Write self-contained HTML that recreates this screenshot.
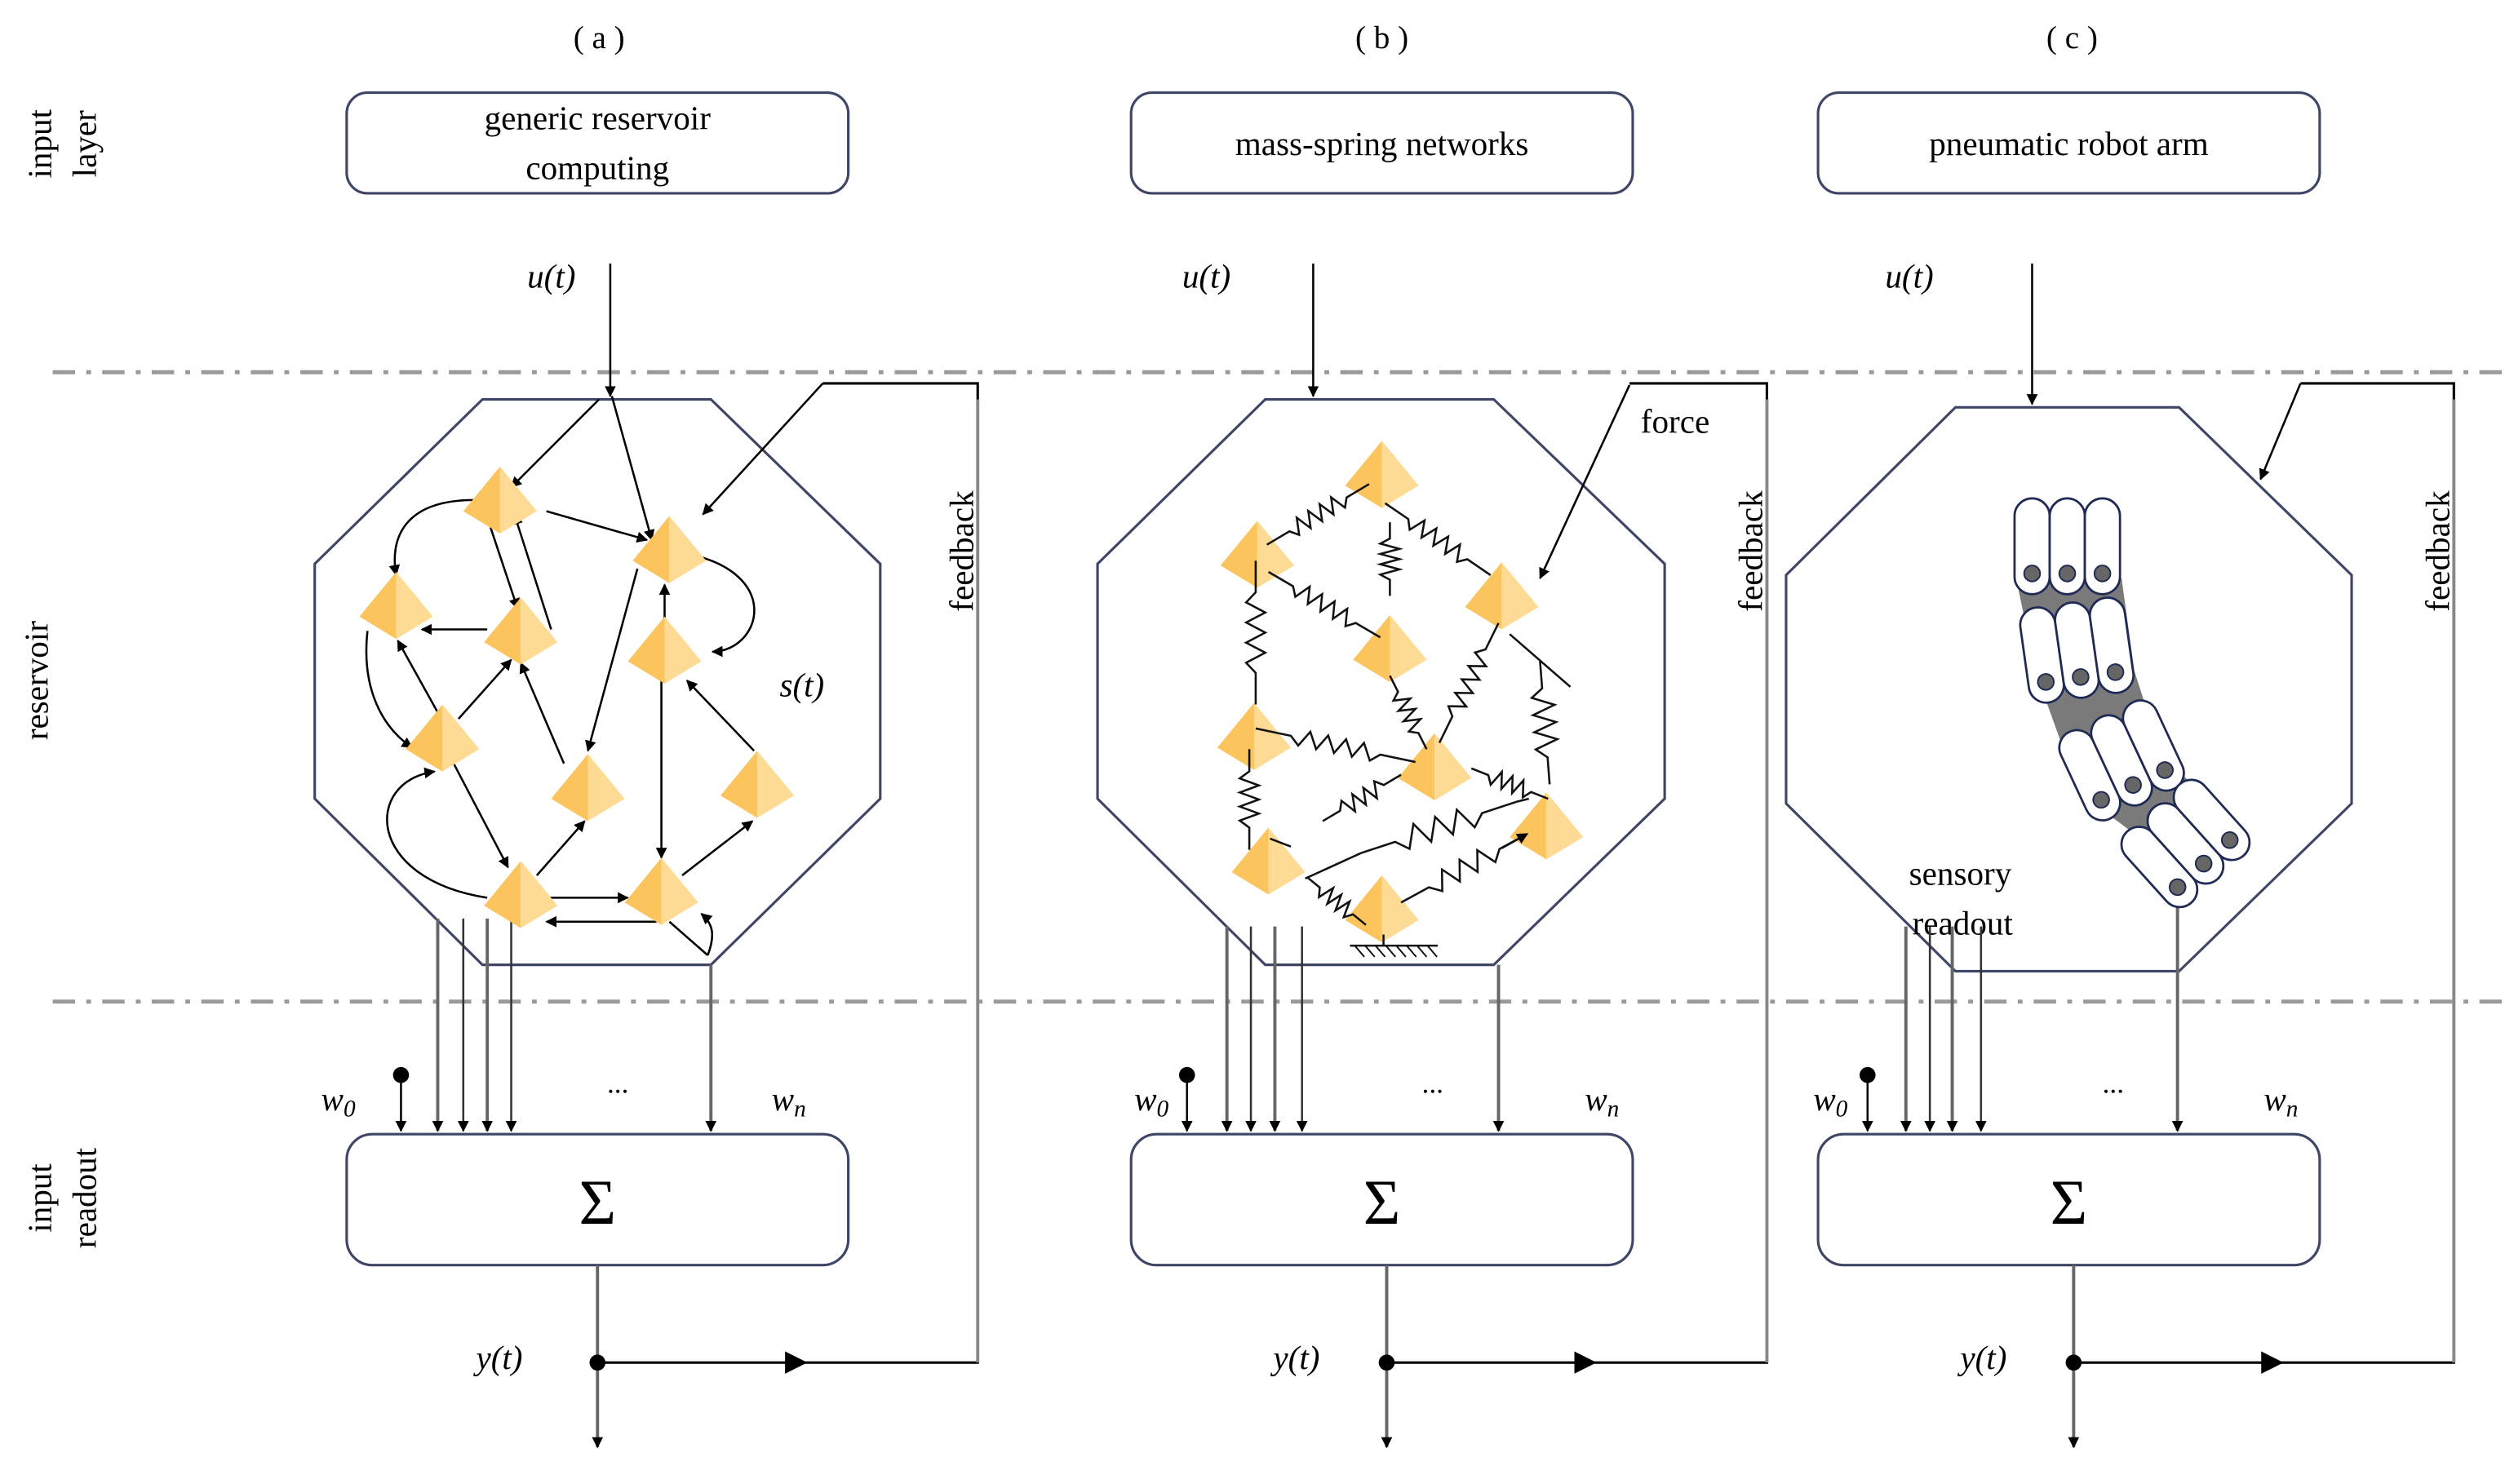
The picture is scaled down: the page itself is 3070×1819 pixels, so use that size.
<!DOCTYPE html>
<html><head><meta charset="utf-8"><style>
html,body{margin:0;padding:0;background:#fff}
svg{display:block}
text{font-family:"Liberation Serif",serif;fill:#000}
</style></head><body>
<svg id="s" width="3070" height="1819" viewBox="0 0 1568 929" xmlns="http://www.w3.org/2000/svg">
<defs>
<marker id="ar" viewBox="0 0 10 10" refX="9" refY="5" markerWidth="7" markerHeight="7" markerUnits="userSpaceOnUse" orient="auto"><path d="M0,0L10,5L0,10z" fill="#000"/></marker>
<marker id="ab" viewBox="0 0 10 10" refX="9" refY="5" markerWidth="14" markerHeight="14" markerUnits="userSpaceOnUse" orient="auto"><path d="M0,0L10,5L0,10z" fill="#000"/></marker>
</defs>
<g stroke="#999" stroke-width="2.5" stroke-dasharray="14 7 3 7">
<line x1="33" y1="233" x2="1568" y2="233"/><line x1="33" y1="627" x2="1568" y2="627"/>
</g>
<text x="375" y="30" font-size="20" text-anchor="middle">( a )</text>
<text x="865" y="30" font-size="20" text-anchor="middle">( b )</text>
<text x="1297" y="30" font-size="20" text-anchor="middle">( c )</text>
<g font-size="21">
<text transform="translate(32,90) rotate(-90)" text-anchor="middle">input</text>
<text transform="translate(60,90) rotate(-90)" text-anchor="middle">layer</text>
<text transform="translate(30,426) rotate(-90)" text-anchor="middle">reservoir</text>
<text transform="translate(32,750) rotate(-90)" text-anchor="middle">input</text>
<text transform="translate(60,750) rotate(-90)" text-anchor="middle">readout</text>
</g>
<g fill="none" stroke="#3f4566" stroke-width="1.6">
<rect x="217" y="58" width="314" height="63" rx="13"/>
<rect x="708" y="58" width="314" height="63" rx="13"/>
<rect x="1138" y="58" width="314" height="63" rx="13"/>
<rect x="217" y="710" width="314" height="82" rx="16"/>
<rect x="708" y="710" width="314" height="82" rx="16"/>
<rect x="1138" y="710" width="314" height="82" rx="16"/>
<polygon points="302,250 445,250 551,353 551,500 445,604 302,604 197,500 197,353"/>
<polygon points="792,250 935,250 1042,353 1042,500 935,604 792,604 687,500 687,353"/>
<polygon points="1224,255 1364,255 1472,360 1472,503 1364,608 1224,608 1118,503 1118,360"/>
</g>
<g font-size="21" text-anchor="middle">
<text x="374" y="81">generic reservoir</text><text x="374" y="112">computing</text>
<text x="865" y="97">mass-spring networks</text>
<text x="1295" y="97">pneumatic robot arm</text>
</g>
<g font-size="40" text-anchor="middle"><text x="374" y="766">Σ</text><text x="865" y="766">Σ</text><text x="1295" y="766">Σ</text></g>
<g font-size="21" font-style="italic">
<text x="330" y="180">u(t)</text><text x="740" y="180">u(t)</text><text x="1180" y="180">u(t)</text>
<text x="488" y="436">s(t)</text>
<text x="298" y="857">y(t)</text><text x="797" y="857">y(t)</text><text x="1227" y="857">y(t)</text>
<text x="201" y="695">w<tspan font-size="15" dy="4">0</tspan></text>
<text x="710" y="695">w<tspan font-size="15" dy="4">0</tspan></text>
<text x="1135" y="695">w<tspan font-size="15" dy="4">0</tspan></text>
<text x="483" y="695">w<tspan font-size="15" dy="4">n</tspan></text>
<text x="992" y="695">w<tspan font-size="15" dy="4">n</tspan></text>
<text x="1417" y="695">w<tspan font-size="15" dy="4">n</tspan></text>
</g>
<g font-size="18"><text x="380" y="684">...</text><text x="890" y="684">...</text><text x="1316" y="684">...</text></g>
<g font-size="21">
<text transform="translate(609,345) rotate(-90)" text-anchor="middle">feedback</text>
<text transform="translate(1103,345) rotate(-90)" text-anchor="middle">feedback</text>
<text transform="translate(1533,345) rotate(-90)" text-anchor="middle">feedback</text>
<text x="1027" y="271">force</text>
<text x="1195" y="554">sensory</text><text x="1197" y="585">readout</text>
</g>
<g id="lines" fill="none" stroke="#000" stroke-width="1.3"></g>
<g id="nodes"></g>
<g id="springs" fill="none" stroke="#111" stroke-width="1.3"></g>
<g id="arm"></g>
</svg>
<script>
var NS="http://www.w3.org/2000/svg";
function el(p,t,a){var e=document.createElementNS(NS,t);for(var k in a)e.setAttribute(k,a[k]);p.appendChild(e);return e;}
var L=document.getElementById('lines'),N=document.getElementById('nodes'),S=document.getElementById('springs'),A=document.getElementById('arm');
function ln(x1,y1,x2,y2,arr,col,w){el(L,'line',{x1:x1,y1:y1,x2:x2,y2:y2,stroke:col||'#000','stroke-width':w||1.3,'marker-end':arr?'url(#ar)':''});}
function pth(d,arr){el(L,'path',{d:d,'marker-end':arr?'url(#ar)':''});}
var cols=[{u:382,oct:248,sx:[274,290,305,320],st:575,last:445,lst:604,dot:251,out:374,fb:612,fbx:515,fbt:[440,322]},
{u:822,oct:248,sx:[768,783,798,815],st:580,last:938,lst:604,dot:743,out:868,fb:1106,fbx:1020,fbt:null},
{u:1272,oct:253,sx:[1193,1208,1222,1240],st:580,last:1363,lst:565,dot:1169,out:1298,fb:1536,fbx:1440,fbt:[1415,300]}];
cols.forEach(function(c){
 ln(c.u,165,c.u,c.oct,1);
 c.sx.forEach(function(x,i){ln(x,c.st,x,708,1,i%2?'#333':'#666',i%2?1.3:2);});
 ln(c.last,c.lst,c.last,708,1,'#666',2);
 el(L,'circle',{cx:c.dot,cy:673,r:5,fill:'#000',stroke:'none'});
 ln(c.dot,673,c.dot,708,1);
 ln(c.out,792,c.out,906,1,'#666',2);
 el(L,'circle',{cx:c.out,cy:853,r:5,fill:'#000',stroke:'none'});
 el(L,'line',{x1:c.out,y1:853,x2:c.out+130,y2:853,stroke:'#000','stroke-width':1.6,'marker-end':'url(#ab)'});
 el(L,'polyline',{points:(c.out+128)+',853 '+c.fb+',853 '+c.fb+',240 '+c.fbx+',240',stroke:'#000','stroke-width':1.6});
 el(L,'line',{x1:c.fb,y1:250,x2:c.fb,y2:853,stroke:'#888','stroke-width':2});
 if(c.fbt)ln(c.fbx,240,c.fbt[0],c.fbt[1],1);
});
ln(1020,241,964,362,1);
function pyr(cx,cy){el(N,'polygon',{points:(cx)+','+(cy-21)+' '+(cx-23)+','+(cy+7)+' '+cx+','+(cy+21),fill:'#fbc45c'});
 el(N,'polygon',{points:(cx)+','+(cy-21)+' '+(cx+23)+','+(cy+7)+' '+cx+','+(cy+21),fill:'#fddb95'});}
[[313,313],[419,344],[248,379],[326,395],[416,407],[277,462],[368,493],[474,491],[326,560],[414,558]].forEach(function(p){pyr(p[0],p[1]);});
[[865,297],[787,347],[940,373],[870,406],[785,461],[898,480],[968,517],[794,539],[865,569]].forEach(function(p){pyr(p[0],p[1]);});
ln(375,250,320,305,1);ln(383,248,408,338,1);ln(342,320,405,338,1);
pth('M297,313 C252,313 244,338 248,360',1);
ln(307,330,324,381,1);ln(345,394,322,322,1);ln(305,394,264,394,1);
pth('M436,348 C489,362 476,407 446,408',1);
ln(416,389,416,366,1);ln(399,356,368,470,1);
pth('M230,395 C226,432 240,456 258,468',1);
ln(274,446,249,401,1);ln(287,450,320,413,1);ln(353,478,326,415,1);
ln(414,423,414,537,1);ln(472,470,430,426,1);ln(284,478,318,543,1);
pth('M305,562 C228,550 228,489 272,483',1);
ln(336,548,366,514,1);ln(427,548,471,514,1);
ln(336,562,393,562,1);ln(411,577,342,577,1);
ln(419,577,443,598,0);pth('M443,598 C448,585 446,578 439,572',1);
function spring(x1,y1,x2,y2,n,amp){n=n||5;amp=amp||5;var dx=x2-x1,dy=y2-y1,len=Math.hypot(dx,dy),ux=dx/len,uy=dy/len,px=-uy,py=ux;
 var a=0.22,b=0.78,pts=[[x1,y1],[x1+dx*a,y1+dy*a]];var m=n*2;
 for(var i=1;i<m;i++){var t=a+(b-a)*i/m,s=(i%2?1:-1)*amp;pts.push([x1+dx*t+px*s,y1+dy*t+py*s]);}
 pts.push([x1+dx*b,y1+dy*b]);pts.push([x2,y2]);
 el(S,'polyline',{points:pts.map(function(p){return p[0].toFixed(1)+','+p[1].toFixed(1)}).join(' ')});}
spring(793,341,857,303);spring(867,315,933,360);spring(870,327,870,373,4,6);
spring(794,358,864,399);spring(786,351,786,441,4,6);spring(938,390,901,465);
spring(870,423,893,469,4,5);el(S,'line',{x1:945,y1:397,x2:983,y2:430});spring(964,414,970,491,4,7);
spring(786,456,886,477);spring(782,469,782,532,4,6);spring(877,485,828,514,4,5);spring(921,481,969,500,4,5);
el(S,'line',{x1:817,y1:550,x2:852,y2:534});spring(852,534,949,502,4,7);el(S,'line',{x1:949,y1:502,x2:957,y2:500});
spring(818,549,855,579,4,5);
spring(877,565,956,522,4,6);
el(S,'line',{x1:940,y1:531,x2:956,y2:522,'marker-end':'url(#ar)'});
el(S,'line',{x1:866,y1:585,x2:866,y2:592});el(S,'line',{x1:845,y1:592,x2:900,y2:592});
for(var i=0;i<8;i++)el(S,'line',{x1:848+i*6.5,y1:592,x2:854+i*6.5,y2:599,'stroke-width':1});
el(S,'line',{x1:795,y1:525,x2:808,y2:530});
// arm (c)
el(A,'polygon',{points:'1262,362 1328,362 1336,420 1352,470 1390,510 1384,530 1360,540 1320,510 1292,470 1274,420',fill:'#7a7a7a'});
function row(cx,cy,ang){var g=el(A,'g',{transform:'translate('+cx+','+cy+') rotate('+ang+')'});
 [-22,0,22].forEach(function(o){el(g,'rect',{x:o-11,y:-30,width:22,height:60,rx:11,fill:'#fff',stroke:'#1f2a55','stroke-width':1.4});
 el(g,'circle',{cx:o,cy:17,r:5,fill:'#666',stroke:'#1f2a55','stroke-width':1});});}
row(1294,342,0);row(1300,407,-8);row(1328,476,-25);row(1368,528,-42);
</script>
</body></html>
